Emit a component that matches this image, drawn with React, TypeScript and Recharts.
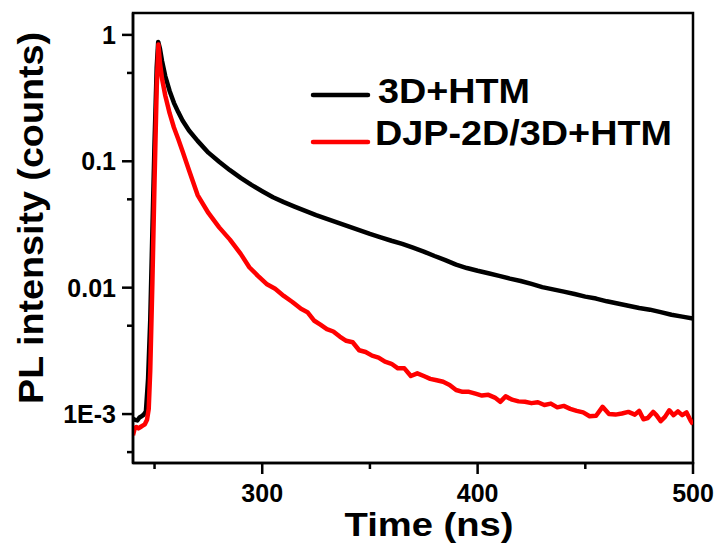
import { Legend, Line, LineChart, ReferenceArea, XAxis, YAxis } from "recharts";

const seriesNames = ["3D+HTM", "DJP-2D/3D+HTM"];

const blackTime = [
  240, 241, 242, 243, 244, 245, 246, 247, 248, 249, 250, 251, 251.7, 252.5, 253.5, 255, 257, 259, 261, 263, 266, 270,
  275, 280, 285, 290, 295, 300, 305, 310, 315, 320, 325, 330, 335, 340, 345, 350, 355, 360, 365, 370, 375, 380, 385,
  390, 395, 400, 405, 410, 415, 420, 425, 430, 435, 440, 445, 450, 455, 460, 465, 470, 475, 480, 485, 490, 495, 500,
];
const blackValue = [
  9.2e-4, 9.0e-4, 8.9e-4, 9.4e-4, 9.6e-4, 9.9e-4, 1.05e-3, 1.9e-3, 5.5e-3, 0.028, 0.14, 0.55, 0.88, 0.78, 0.62, 0.47,
  0.36, 0.29, 0.245, 0.21, 0.175, 0.145, 0.117, 0.099, 0.085, 0.074, 0.065, 0.058, 0.052, 0.0475, 0.0438, 0.0405,
  0.0375, 0.035, 0.0327, 0.0305, 0.0285, 0.0266, 0.025, 0.0235, 0.0222, 0.0207, 0.0193, 0.0178, 0.0165, 0.0152,
  0.0143, 0.0136, 0.013, 0.0124, 0.0118, 0.0113, 0.0107, 0.0101, 0.0097, 0.0093, 0.0089, 0.0085, 0.0082, 0.0078,
  0.0075, 0.0072, 0.0069, 0.0067, 0.0064, 0.0061, 0.0059, 0.0057,
];

const redTime = [
  240, 240.7, 241.5, 242.5, 243.5, 244.5, 245.5, 246.5, 247.3, 248, 249, 250, 251, 251.8, 252.5, 253.5, 255, 257, 259,
  261, 263, 266, 270, 275, 280, 285, 290, 294, 298, 302, 306, 310, 314, 318, 321, 324, 327, 330, 333, 336, 339, 342,
  345, 348, 351, 354, 357, 360, 363, 366, 369, 372, 375, 378, 381, 384, 387, 390, 393, 396, 399, 402, 405, 408, 410.5,
  413, 416, 419, 422, 425, 428, 431, 434, 437, 440, 443, 446, 449, 452, 455, 458, 461, 464, 467, 470, 473, 475, 477,
  479, 481.5, 483, 485, 487, 489, 491, 493, 495, 497, 499, 500,
];
const redValue = [
  6.8e-4, 7.6e-4, 7.9e-4, 7.7e-4, 7.9e-4, 8.1e-4, 8.3e-4, 9.0e-4, 1.1e-3, 2.2e-3, 0.011, 0.07, 0.38, 0.84, 0.6, 0.45,
  0.33, 0.24, 0.185, 0.15, 0.12, 0.085, 0.054, 0.039, 0.03, 0.024, 0.0185, 0.0145, 0.0124, 0.0107, 0.0098, 0.0086,
  0.0077, 0.0068, 0.0064, 0.0055, 0.0051, 0.0047, 0.0045, 0.0041, 0.0038, 0.0037, 0.0032, 0.0031, 0.0029, 0.0028,
  0.0026, 0.0025, 0.0023, 0.0023, 0.002, 0.0021, 0.002, 0.0019, 0.00185, 0.0018, 0.0017, 0.00155, 0.0015, 0.0015,
  0.00145, 0.0014, 0.00142, 0.00135, 0.00125, 0.00138, 0.0013, 0.00126, 0.00125, 0.00122, 0.00124, 0.00118, 0.00121,
  0.00113, 0.00116, 0.0011, 0.00106, 0.00103, 0.00096, 0.00097, 0.00114, 0.001, 0.00099, 0.00101, 0.00104, 0.00099,
  0.00106, 0.00091, 0.00093, 0.00104, 0.00098, 0.00088, 0.00095, 0.00107, 0.00098, 0.00105, 0.00098, 0.00103,
  0.00088, 0.00083,
];

const xTicks = [250, 300, 350, 400, 450, 500];
const xMajor = [300, 400, 500];
const yTicks = [5e-4, 1e-3, 5e-3, 0.01, 0.05, 0.1, 0.5, 1];
const yLabels: Record<string, string> = { "0.001": "1E-3", "0.01": "0.01", "0.1": "0.1", "1": "1" };

const X_MIN = 240;
const X_MAX = 500;
const Y_MIN = 4.1e-4;
const Y_MAX = 1.49;

const blackData = blackTime.map((t, i) => ({ t, v: blackValue[i] }));
const redData = redTime.map((t, i) => ({ t, v: redValue[i] }));

const FONT = "'Liberation Sans', Arial, sans-serif";

// axis draws no tick lines itself; each tick draws its own mark (long for labelled, short otherwise)
function XTick({ x, y, payload }: any) {
  const major = xMajor.includes(payload.value);
  const xx = Number(x);
  const yy = Number(y);
  const len = major ? 11 : 6;
  return (
    <g>
      <rect x={xx - 1.25} y={yy - 1} width={2.5} height={len + 1} fill="#000" stroke="none" />
      {major && (
        <text x={xx} y={yy + 39} textAnchor="middle" fontFamily={FONT} fontWeight="bold" fontSize={25} fill="#000">
          {payload.value}
        </text>
      )}
    </g>
  );
}

function YTick({ x, y, payload }: any) {
  const label = yLabels[String(payload.value)];
  const xx = Number(x);
  const yy = Number(y);
  const len = label ? 11 : 6;
  return (
    <g>
      <rect x={xx - len} y={yy - 1.25} width={len + 1} height={2.5} fill="#000" stroke="none" />
      {label && (
        <text x={xx - 17} y={yy + 9} textAnchor="end" fontFamily={FONT} fontWeight="bold" fontSize={25} fill="#000">
          {label}
        </text>
      )}
    </g>
  );
}

function LegendBox({ payload }: any) {
  const widths = [152, 297];
  return (
    <svg width={400} height={90}>
      {(payload || []).map((p: any, i: number) => (
        <g key={p.value}>
          <line x1={13} x2={68} y1={25 + i * 47} y2={25 + i * 47} stroke={p.color} strokeWidth={4.5} strokeLinecap="round" />
          <text
            x={i === 0 ? 78 : 75}
            y={33 + i * 42}
            fontFamily={FONT}
            fontWeight="bold"
            fontSize={35}
            fill="#000"
            textLength={widths[i]}
            lengthAdjust="spacingAndGlyphs"
          >
            {p.value}
          </text>
        </g>
      ))}
    </svg>
  );
}

export default function App() {
  return (
    <div style={{ position: "absolute", left: 0, top: 0, background: "#fff" }}>
      <LineChart width={718} height={549} margin={{ top: 13, right: 25, bottom: 85, left: 132 }}>
        <XAxis
          dataKey="t"
          type="number"
          domain={[X_MIN, X_MAX]}
          allowDataOverflow
          ticks={xTicks}
          height={1}
          tickSize={0}
          tickMargin={0}
          tickLine={false}
          axisLine={{ stroke: "#000", strokeWidth: 2.5 }}
          tick={<XTick />}
          interval={0}
        />
        <YAxis
          dataKey="v"
          type="number"
          scale="log"
          domain={[Y_MIN, Y_MAX]}
          allowDataOverflow
          ticks={yTicks}
          width={1}
          tickSize={0}
          tickMargin={0}
          tickLine={false}
          axisLine={{ stroke: "#000", strokeWidth: 2.5 }}
          tick={<YTick />}
          interval={0}
          label={{
            content: () => (
              <text
                transform="translate(43 218) rotate(-90)"
                textAnchor="middle"
                fontFamily={FONT}
                fontWeight="bold"
                fontSize={35}
                fill="#000"
                textLength={372}
                lengthAdjust="spacingAndGlyphs"
              >
                PL intensity (counts)
              </text>
            ),
          }}
        />
        <ReferenceArea x1={X_MIN} x2={X_MAX} y1={Y_MIN} y2={Y_MAX} fill="none" stroke="#000" strokeWidth={2.5} />
        <Line
          data={blackData}
          dataKey="v"
          name={seriesNames[0]}
          stroke="#000000"
          strokeWidth={4.5}
          strokeLinejoin="round"
          dot={false}
          isAnimationActive={false}
        />
        <Line
          data={redData}
          dataKey="v"
          name={seriesNames[1]}
          stroke="#ff0000"
          strokeWidth={4.5}
          strokeLinejoin="round"
          dot={false}
          isAnimationActive={false}
        />
        <Legend
          layout="vertical"
          align="center"
          verticalAlign="middle"
          content={<LegendBox />}
          wrapperStyle={{ position: "absolute", left: 300, top: 70, width: 400, height: 90 }}
        />
        <text
          x={429}
          y={536}
          textAnchor="middle"
          fontFamily={FONT}
          fontWeight="bold"
          fontSize={34}
          fill="#000"
          textLength={169}
          lengthAdjust="spacingAndGlyphs"
        >
          Time (ns)
        </text>
      </LineChart>
    </div>
  );
}
